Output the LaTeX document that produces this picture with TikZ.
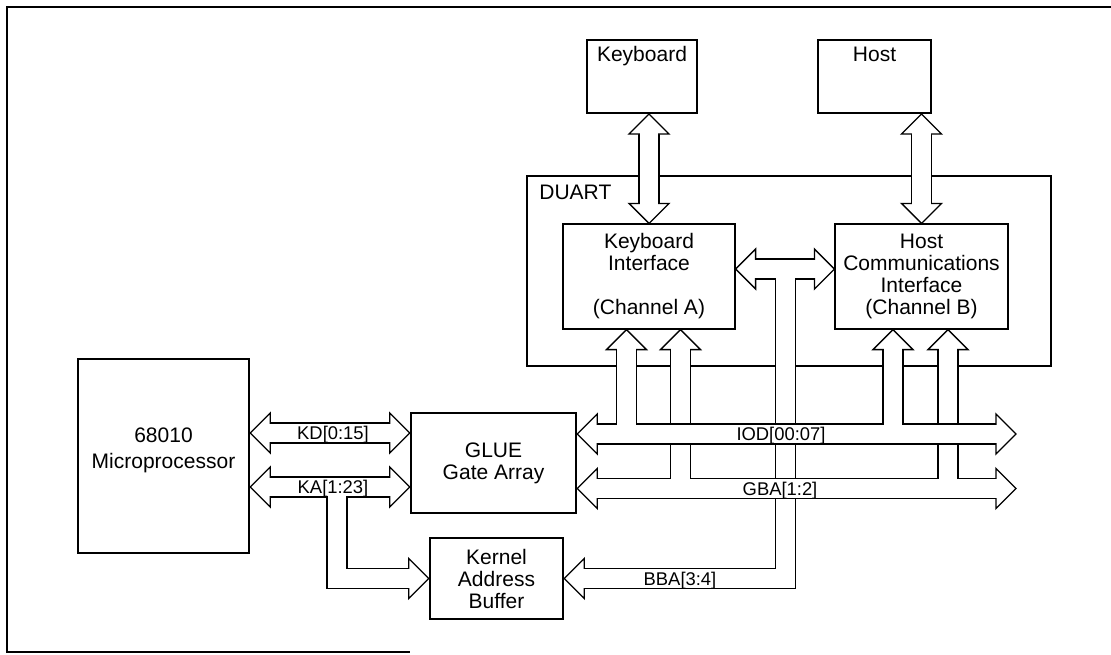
\documentclass[tikz,border=0pt]{standalone}
\usepackage{fontspec}
\setmainfont{Liberation Sans}
\usetikzlibrary{calc}

% hollow bus arrow: head at a tip, pointing in a direction
\newcommand{\bushead}[2]{\draw[busshape, shift={(#1)}, rotate=#2] (0,0) -- (-20,20) -- (-20,-20) -- cycle;}
% fat bus: outline pass, heads, then white interior pass
\newcommand{\fatbus}[2]{\draw[busout] #1; #2 \draw[busin] #1;}

\begin{document}
\begin{tikzpicture}[x=0.5pt, y=-0.5pt,
    boxtext/.style={font=\fontsize{10.5}{11}\selectfont, align=center, inner sep=0pt},
    heavybox/.style={boxtext, draw, line width=1.2pt, fill=white},
    topbox/.style={boxtext, draw, line width=1pt, fill=white, inner ysep=2.5pt,
        text height=8pt, text depth=23.5pt, minimum height=36.5pt},
    chanbox/.style={boxtext, draw, line width=0.6pt, fill=white},
    groupbox/.style={draw, line width=0.9pt},
    buslbl/.style={font=\fontsize{9.2}{10}\selectfont, inner sep=0pt, anchor=base},
    busout/.style={line width=10.65pt, draw=black},
    busin/.style={line width=9.35pt, draw=white},
    busshape/.style={draw, fill=white, line width=0.65pt},
    frame/.style={line width=1.25pt}
]
\useasboundingbox (0,0) rectangle (1111,654);

\draw[frame] (1111,7) -- (7,7) -- (7,652) -- (410,652);

% blocks
\node[heavybox, minimum width=85.5pt, minimum height=97pt] (cpu) at (163.5,456) {68010\\[2pt]Microprocessor\\[-3pt]\mbox{}};
\node[heavybox, minimum width=82.5pt, minimum height=50pt] (glue) at (493.5,463) {GLUE\\Gate Array};
\node[heavybox, minimum width=66.5pt, minimum height=40.5pt] (kab) at (496.5,578.5) {Kernel\\Address\\Buffer};
\node[topbox, minimum width=55pt] (kbd) at (642,76.5) {Keyboard};
\node[topbox, minimum width=56.5pt] (host) at (874.5,76.5) {Host};
\node[groupbox, minimum width=262pt, minimum height=95pt] (duart) at (789,271) {};
\node[boxtext, anchor=north west] (duartlbl) at (539,185) {DUART};
\node[chanbox, minimum width=86pt, minimum height=52.5pt] (kbif) at (649,276.5) {Keyboard\\Interface\\[11pt](Channel A)};
\node[chanbox, minimum width=86.5pt, minimum height=52.5pt] (hcif) at (921.5,276.5) {Host\\Communications\\Interface\\(Channel B)};

% bus ends
\coordinate (kdL) at (cpu.east |- 0,433);
\coordinate (kdR) at (glue.west |- 0,433);
\coordinate (kaL) at (cpu.east |- 0,487);
\coordinate (kaR) at (glue.west |- 0,487);
\coordinate (iodL) at (glue.east |- 0,434);
\coordinate (iodR) at (1016,434);
\coordinate (gbaL) at (glue.east |- 0,488.5);
\coordinate (gbaR) at (1016,488.5);
\coordinate (bbaL) at (kbif.east |- 0,269);
\coordinate (bbaR) at (hcif.west |- 0,269);
\coordinate (kbA) at (kbif.south -| 626.5,0);
\coordinate (kbB) at (kbif.south -| 680.5,0);
\coordinate (hcA) at (hcif.south -| 893,0);
\coordinate (hcB) at (hcif.south -| 948,0);

% keyboard and host links
\fatbus{($(kbif.north)-(0,16)$) -- ($(kbif.north |- kbd.south)+(0,16)$)}
    {\bushead{kbif.north}{-90}\bushead{kbif.north |- kbd.south}{90}}
\fatbus{($(hcif.north)-(0,16)$) -- ($(hcif.north |- host.south)+(0,16)$)}
    {\bushead{hcif.north}{-90}\bushead{hcif.north |- host.south}{90}}

% BBA
\fatbus{($(bbaL)+(16,0)$) -- ($(bbaR)-(16,0)$) (bbaL -| 785.5,0) -- (785.5,0 |- kab.east) -- ($(kab.east)+(16,0)$)}
    {\bushead{bbaL}{180}\bushead{bbaR}{0}\bushead{kab.east}{180}}

% KD and KA
\fatbus{($(kdL)+(16,0)$) -- ($(kdR)-(16,0)$)}
    {\bushead{kdL}{180}\bushead{kdR}{0}}
\fatbus{($(kaL)+(16,0)$) -- ($(kaR)-(16,0)$) (kaL -| 337,0) -- (337,0 |- kab.west) -- ($(kab.west)-(16,0)$)}
    {\bushead{kaL}{180}\bushead{kaR}{0}\bushead{kab.west}{0}}

% GBA
\fatbus{($(gbaL)+(16,0)$) -- ($(gbaR)-(16,0)$) (gbaL -| kbB) -- ($(kbB)+(0,16)$) (gbaL -| hcB) -- ($(hcB)+(0,16)$)}
    {\bushead{gbaL}{180}\bushead{gbaR}{0}\bushead{kbB}{90}\bushead{hcB}{90}}

% IOD
\fatbus{($(iodL)+(16,0)$) -- ($(iodR)-(16,0)$) (iodL -| kbA) -- ($(kbA)+(0,16)$) (iodL -| hcA) -- ($(hcA)+(0,16)$)}
    {\bushead{iodL}{180}\bushead{iodR}{0}\bushead{kbA}{90}\bushead{hcA}{90}}

% bus labels
\node[buslbl] (kdlbl) at (333,439.5) {KD[0:15]};
\node[buslbl] (kalbl) at (333,493.5) {KA[1:23]};
\node[buslbl] (iodlbl) at (781,440.5) {IOD[00:07]};
\node[buslbl] (gbalbl) at (780,495) {GBA[1:2]};
\node[buslbl] (bbalbl) at (680,585) {BBA[3:4]};

\end{tikzpicture}
\end{document}
